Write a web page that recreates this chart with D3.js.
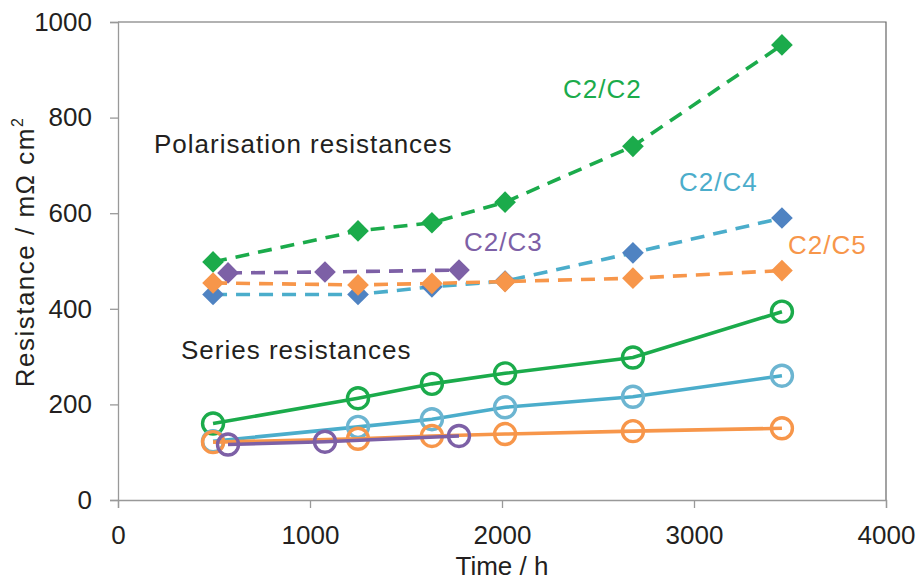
<!DOCTYPE html>
<html>
<head>
<meta charset="utf-8">
<script src="https://cdn.jsdelivr.net/npm/d3@7"></script>
<style>
  body { margin: 0; background: #fff; }
  svg { display: block; font-family: "Liberation Sans", Arial, sans-serif; }
</style>
</head>
<body>
<svg id="chart"></svg>
<script>
// Resistance vs time — polarisation (dashed, diamonds) and series (solid, circles)

const xTicks = [0, 1000, 2000, 3000, 4000];
const yTicks = [0, 200, 400, 600, 800, 1000];

// Polarisation resistances
const polC2C2 = [[495, 498], [1250, 563], [1635, 580], [2016, 623], [2682, 740], [3458, 952]];
const polC2C3 = [[573, 475], [1078, 477], [1776, 481]];
const polC2C4 = [[495, 430], [1250, 430], [1635, 446], [2016, 458], [2682, 517], [3458, 590]];
const polC2C5 = [[495, 454], [1250, 450], [1635, 453], [2016, 457], [2682, 464], [3458, 480]];

// Series resistances
const serC2C2 = [[495, 160], [1250, 213], [1635, 243], [2016, 265], [2682, 298], [3458, 394]];
const serC2C3 = [[573, 116], [1078, 122], [1776, 134]];
const serC2C4 = [[495, 123], [1250, 153], [1635, 169], [2016, 194], [2682, 216], [3458, 260]];
const serC2C5 = [[495, 121], [1250, 128], [1635, 134], [2016, 138], [2682, 144], [3458, 150]];

const GREEN = "#1bab4b", PURPLE = "#7d60a6", AQUA = "#4badcb", BLUE = "#4f83c2",
      AQUA_LT = "#6cb5d1", ORANGE = "#f7964a";
const INK = "#231f20";

const W = 922, H = 581;
const M = { top: 22, right: 36, bottom: 81, left: 118 };
const innerW = W - M.left - M.right;
const innerH = H - M.top - M.bottom;

const svg = d3.select("#chart").attr("width", W).attr("height", H);
const g = svg.append("g").attr("transform", `translate(${M.left},${M.top})`);

const x = d3.scaleLinear().domain([0, 4000]).range([0, innerW]);
const y = d3.scaleLinear().domain([0, 1000]).range([innerH, 0]);

// frame (top and right)
g.append("path")
  .attr("d", `M0,0H${innerW}V${innerH}`)
  .attr("fill", "none").attr("stroke", "#666").attr("stroke-width", 1.2);

// Y axis
const yAx = g.append("g")
  .call(d3.axisLeft(y).tickValues(yTicks).tickSize(8).tickPadding(18)
    .tickFormat(d3.format("d")));
yAx.select(".domain").attr("stroke", "#999").attr("stroke-width", 1.3);
yAx.selectAll(".tick line").attr("stroke", "#999").attr("stroke-width", 1.3);
yAx.selectAll(".tick text")
  .attr("font-size", 26).attr("fill", INK)
  .attr("font-family", "'Liberation Sans', Arial, sans-serif");

// X axis
const xAx = g.append("g")
  .attr("transform", `translate(0,${innerH})`)
  .call(d3.axisBottom(x).tickValues(xTicks).tickSize(8).tickPadding(18)
    .tickFormat(d3.format("d")));
xAx.select(".domain").attr("stroke", "#999").attr("stroke-width", 1.3);
xAx.selectAll(".tick line").attr("stroke", "#999").attr("stroke-width", 1.3);
xAx.selectAll(".tick text")
  .attr("font-size", 26).attr("fill", INK)
  .attr("font-family", "'Liberation Sans', Arial, sans-serif");

// Axis titles
svg.append("text")
  .attr("x", 502).attr("y", 575)
  .attr("text-anchor", "middle")
  .attr("font-size", 26).attr("fill", INK)
  .text("Time / h");

const yt = svg.append("text")
  .attr("transform", "translate(34,252) rotate(-90)")
  .attr("text-anchor", "middle")
  .attr("font-size", 26).attr("letter-spacing", 1.5).attr("fill", INK);
yt.append("tspan").text("Resistance / m\u03A9 cm");
yt.append("tspan").attr("font-size", 16).attr("dy", -11).text("2");

const line = d3.line().x(d => x(d[0])).y(d => y(d[1]));

// Series resistances — solid lines with hollow circles
function series(data, lineCol, ptCol) {
  g.append("path").datum(data)
    .attr("fill", "none").attr("stroke", lineCol).attr("stroke-width", 3.6)
    .attr("d", line);
  g.selectAll(null).data(data).enter().append("circle")
    .attr("cx", d => x(d[0])).attr("cy", d => y(d[1]))
    .attr("r", 10.5)
    .attr("fill", "none").attr("stroke", ptCol).attr("stroke-width", 3.4);
}

// Polarisation resistances — dashed lines with diamonds
const diamond = d3.symbol().type(d3.symbolDiamond2).size(300);
function polar(data, lineCol, ptCol) {
  g.append("path").datum(data)
    .attr("fill", "none").attr("stroke", lineCol).attr("stroke-width", 3.6)
    .attr("stroke-dasharray", "14,9")
    .attr("d", line);
  g.selectAll(null).data(data).enter().append("path")
    .attr("transform", d => `translate(${x(d[0])},${y(d[1])})`)
    .attr("d", diamond)
    .attr("fill", ptCol);
}

series(serC2C2, GREEN, GREEN);
series(serC2C4, AQUA, AQUA_LT);
series(serC2C5, ORANGE, ORANGE);
series(serC2C3, PURPLE, PURPLE);

polar(polC2C2, GREEN, GREEN);
polar(polC2C4, AQUA, BLUE);
polar(polC2C3, PURPLE, PURPLE);
polar(polC2C5, ORANGE, ORANGE);

// Annotations
function label(tx, ty, txt, col) {
  svg.append("text")
    .attr("x", tx).attr("y", ty)
    .attr("font-size", 26).attr("letter-spacing", 1).attr("fill", col)
    .text(txt);
}
label(154, 153, "Polarisation resistances", INK);
label(181, 359, "Series resistances", INK);
label(563, 98, "C2/C2", GREEN);
label(679, 191, "C2/C4", AQUA);
label(464, 251, "C2/C3", PURPLE);
label(788, 254, "C2/C5", ORANGE);
</script>
</body>
</html>
